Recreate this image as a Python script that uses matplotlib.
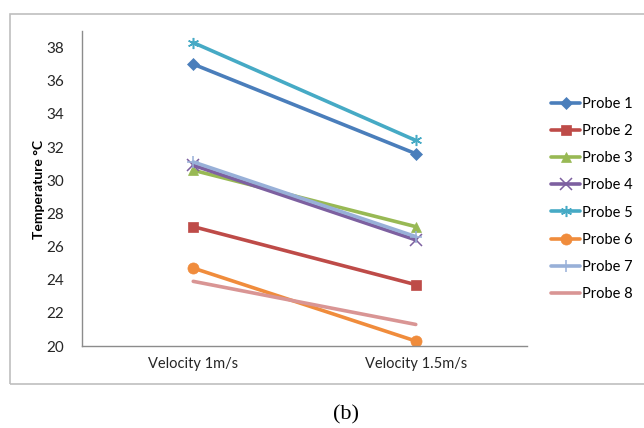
import matplotlib
matplotlib.use("Agg")
import matplotlib.pyplot as plt
from matplotlib.patches import Rectangle

# temperatures per probe at the two air velocities
velocities = ["Velocity 1m/s", "Velocity 1.5m/s"]
probes = ["Probe 1", "Probe 2", "Probe 3", "Probe 4",
          "Probe 5", "Probe 6", "Probe 7", "Probe 8"]
probe1 = [37.0, 31.6]
probe2 = [27.2, 23.7]
probe3 = [30.6, 27.2]
probe4 = [30.9, 26.4]
probe5 = [38.3, 32.4]
probe6 = [24.7, 20.3]
probe7 = [31.1, 26.6]
probe8 = [23.9, 21.3]
yticks = [20, 22, 24, 26, 28, 30, 32, 34, 36, 38]

series = [probe1, probe2, probe3, probe4, probe5, probe6, probe7, probe8]
colors = ["#4A7EBB", "#BE4B48", "#98B954", "#7D60A0",
          "#46AAC5", "#F08C3C", "#98B0D8", "#D99594"]
markers = ["D", "s", "^", "x", (6, 2, 0), "o", "+", None]
msizes = [6, 7, 7, 8, 8, 8, 9, 0]

plt.rcParams["font.family"] = ["Lato", "DejaVu Sans"]

fig = plt.figure(figsize=(6.44, 4.28), dpi=100)

# outer chart frame
fig.patches.append(Rectangle((10 / 644, 1 - 384 / 428), 1.0, 370 / 428,
                             transform=fig.transFigure, fill=False,
                             edgecolor="#BFBFBF", linewidth=1.2))

ax = fig.add_axes([82 / 644, 1 - 346 / 428, 445 / 644, 315 / 428])
x = list(range(len(velocities)))
for name, vals, c, m, ms in zip(probes, series, colors, markers, msizes):
    ax.plot(x, vals, color=c, linewidth=2.6, marker=m, markersize=ms,
            markeredgewidth=1.1 if m in ("x", "+", (6, 2, 0)) else 0.5,
            markeredgecolor=c, label=name, solid_capstyle="round")

ax.set_xlim(-0.5, 1.5)
ax.set_ylim(20, 39)
ax.set_xticks(x)
ax.set_xticklabels(velocities, fontsize=10.5, color="#262626")
ax.set_yticks(yticks)
ax.set_yticklabels([str(v) for v in yticks], fontsize=11, color="#262626")
ax.tick_params(length=0, pad=13)
ax.tick_params(axis="x", pad=8)
for s in ["top", "right"]:
    ax.spines[s].set_visible(False)
for s in ["left", "bottom"]:
    ax.spines[s].set_color("#8C8C8C")
    ax.spines[s].set_linewidth(1.0)

fig.text(39 / 644, 1 - 189 / 428, "Temperature °C", rotation=90,
         ha="center", va="center", fontsize=10, fontweight="bold")

leg = fig.legend(loc="center left", bbox_to_anchor=(544 / 644, 1 - 199 / 428),
                 frameon=False, fontsize=10.5, handlelength=2.0,
                 handletextpad=0.1, labelspacing=0.9, borderpad=0)

fig.text(346 / 644, 1 - 415 / 428, "(b)", ha="center", va="center",
         fontsize=16, family="Liberation Serif")

fig.savefig("out.png", dpi=100)
